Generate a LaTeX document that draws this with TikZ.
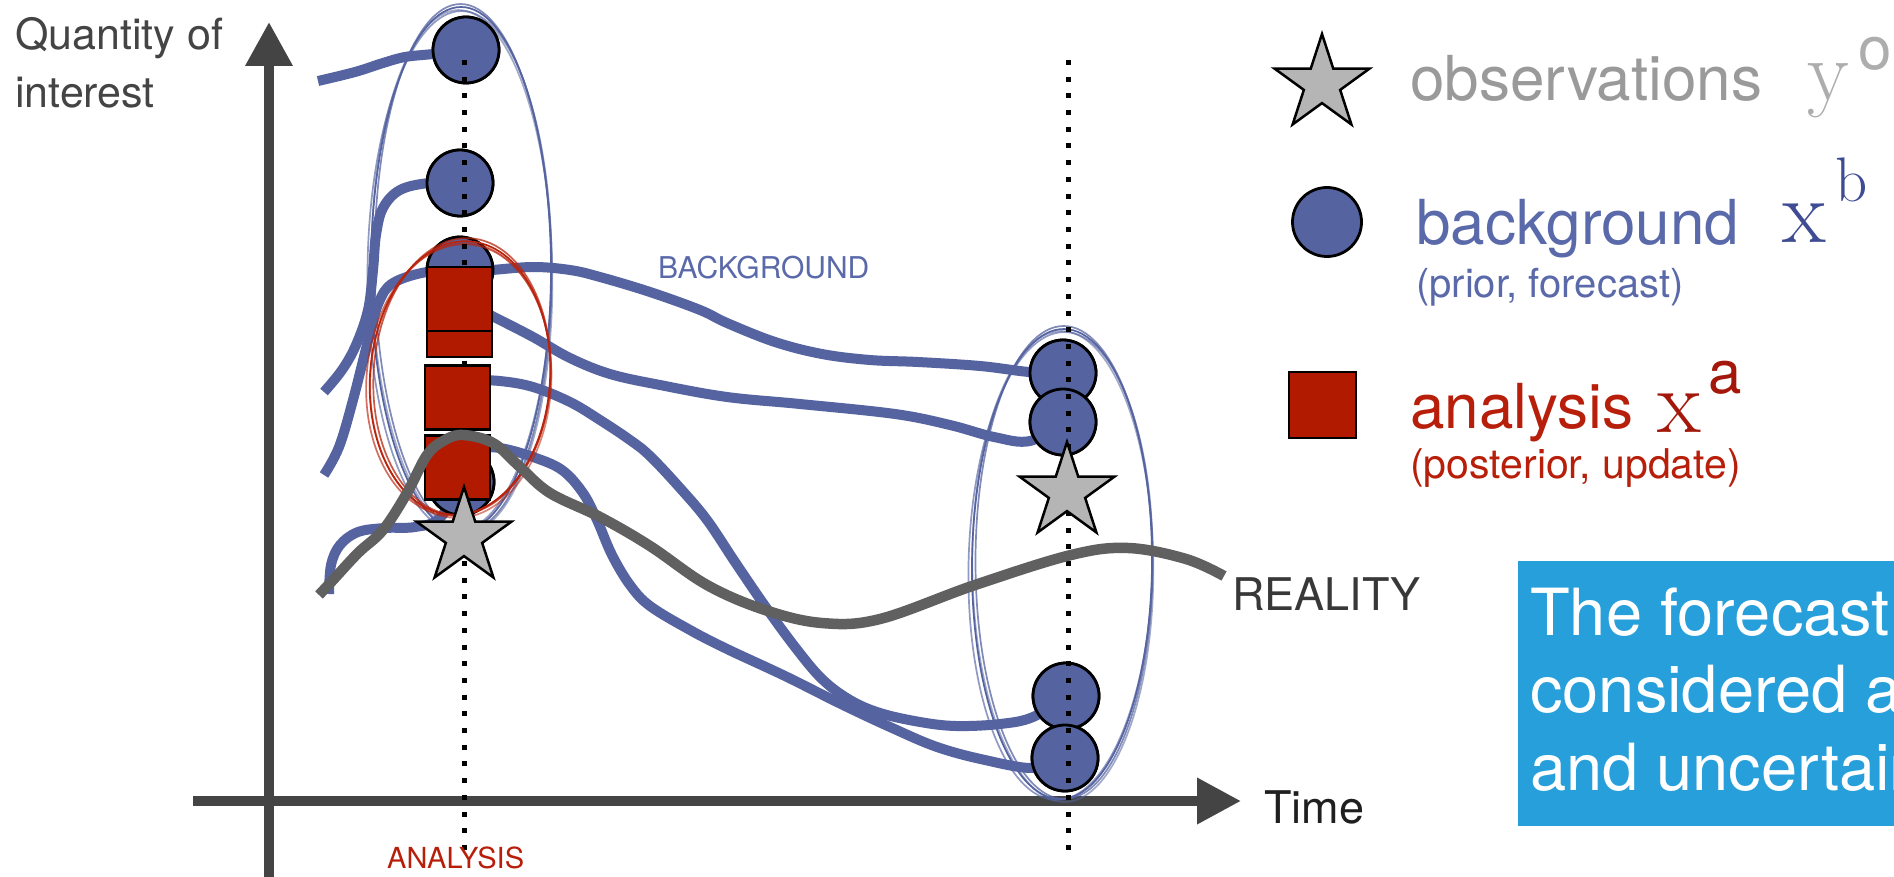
\documentclass[tikz,border=0pt]{standalone}
\usepackage{fontspec}
\newfontfamily\helv{TeX Gyre Heros}
\usetikzlibrary{shapes.geometric,arrows.meta}
\newcommand\fsz[1]{\fontsize{#1}{#1}\selectfont}
\definecolor{bgblue}{HTML}{5563A0}
\definecolor{bgtext}{HTML}{5A69A9}
\definecolor{bgmath}{HTML}{3F4C94}
\definecolor{anred}{HTML}{B21A00}
\definecolor{antext}{HTML}{B71F0A}
\definecolor{anmath}{HTML}{A3180A}
\definecolor{ellred}{HTML}{B9230C}
\definecolor{starfill}{HTML}{B5B5B5}
\definecolor{obstext}{HTML}{9A9A9A}
\definecolor{obsmath}{HTML}{ADADAD}
\definecolor{realgray}{HTML}{606060}
\definecolor{axisgray}{HTML}{444444}
\definecolor{boxblue}{HTML}{279FDB}
\begin{document}
\begin{tikzpicture}[x=1pt,y=-1pt,
  bgdot/.style={circle, draw=black, line width=2.8pt, fill=bgblue, minimum size=66pt, inner sep=0pt},
  anbox/.style={rectangle, draw=black, line width=2.8pt, fill=anred, minimum width=65pt, minimum height=64pt, inner sep=0pt},
  obstar/.style={star, star points=5, star point ratio=2.618, minimum size=100pt, inner sep=0pt, draw=black, line width=2.5pt, fill=starfill},
  member/.style={draw=bgblue, line width=10pt},
  truth/.style={draw=realgray, line width=10.5pt},
  axisline/.style={draw=axisgray, line width=10pt},
  timemark/.style={draw=black, line width=5pt, dash pattern=on 5pt off 11.7pt},
  sketchb/.style={draw=bgblue, line width=1.7pt},
  sketchr/.style={draw=ellred, line width=1.7pt},
  lbl/.style={inner sep=0pt, anchor=base west},
]
\useasboundingbox (0,0) rectangle (1894,877);
\fill[white] (0,0) rectangle (1894,877);

% axes
\coordinate (xs) at (193,801);
\coordinate (xe) at (1241,801);
\coordinate (ys) at (269,880);
\coordinate (ye) at (269,22);
\draw[axisline, -{Triangle[length=44pt,width=44pt]}] (xs) -- (xe);
\draw[axisline, -{Triangle[length=44pt,width=45pt]}] (ys) -- (ye);

% hand-drawn ensemble envelopes
\foreach \ox/\oy/\rx/\ry/\rt/\op in {0/0/90/262/0/1, 2/-1.5/88.5/263.5/0.6/0.75, -1.5/2/92/260/-0.5/0.65, 0.8/2.5/90.5/261.5/0.8/0.55}
  \draw[sketchb, opacity=\op, shift={(461+\ox,269+\oy)}, rotate=\rt] (0,0) ellipse [x radius=\rx, y radius=\ry];
\foreach \ox/\oy/\rx/\ry/\rt/\op in {0/0/90/235/-0.5/1, 2/-1.5/88.5/236.5/0.1/0.75, -1.5/2/92/234/-1.1/0.65, 0.8/2.5/90.5/235.5/0.4/0.55}
  \draw[sketchb, opacity=\op, shift={(1062+\ox,564+\oy)}, rotate=\rt] (0,0) ellipse [x radius=\rx, y radius=\ry];

% background states at the analysis time
\node[bgdot] (c1) at (466,50) {};
\node[bgdot] (c2) at (460,183) {};
\node[bgdot] (c3) at (460,270) {};
\node[bgdot] (c4) at (461,482) {};

% forecast states at the next time
\node[bgdot] (r1) at (1063,373) {};
\node[bgdot] (r2) at (1063,422) {};
\node[bgdot] (r3) at (1066,696) {};
\node[bgdot] (r4) at (1065,758) {};

% ensemble member trajectories
\draw[member] plot[smooth, tension=0.6] coordinates {(318,81) (355,72) (383,63) (405,57) (433,54) (c1.center)};
\draw[member] plot[smooth, tension=0.6] coordinates {(c2.center) (429,183) (400,190) (383,208) (376,235) (373,270) (368,310) (356,345) (342,370) (324,392)};
\draw[member] plot[smooth, tension=0.6] coordinates {(324,475) (339,447) (353,400) (370,333) (379,302) (393,283) (427,272) (460,272) (492,270) (533,267) (570,270) (600,277) (650,292) (700,310) (727,323) (775,342) (822,354) (870,360) (918,362) (980,366) (1029,372) (r1.center)};
\draw[member] plot[smooth, tension=0.6] coordinates {(470,305) (500,320) (533,337) (570,358) (610,374) (660,385) (727,397) (800,404) (895,414) (950,425) (994,437) (1030,441) (r2.center)};
\draw[member] plot[smooth, tension=0.6] coordinates {(470,380) (500,381) (533,387) (570,402) (600,420) (630,440) (650,456) (680,488) (707,520) (735,562) (765,606) (795,647) (822,679) (850,700) (880,713) (920,722) (956,726) (1000,724) (1033,717) (r3.center)};
\draw[member] plot[smooth, tension=0.6] coordinates {(470,447) (500,448) (533,457) (562,470) (583,493) (597,520) (612,555) (630,585) (650,606) (690,630) (727,649) (785,676) (841,704) (890,727) (937,747) (985,760) (1033,768) (r4.center)};
\draw[member] plot[smooth, tension=0.6] coordinates {(329,594) (331,565) (340,545) (358,532) (385,528) (415,527) (440,518) (c4.center)};

% circles again, over the trajectory ends
\node[bgdot] at (c1) {};
\node[bgdot] at (c2) {};
\node[bgdot] at (c3) {};
\node[bgdot] at (c4) {};
\node[bgdot] at (r1) {};
\node[bgdot] at (r2) {};
\node[bgdot] at (r3) {};
\node[bgdot] at (r4) {};

% analysis envelope
\foreach \ox/\oy/\rx/\ry/\rt/\op in {0/0/90/137/-4/1, 2/-1.5/88.5/138.5/-3.3/0.75, -1.5/2/92/136/-4.7/0.65, 0.8/2.5/90.5/137.5/-2.8/0.55}
  \draw[sketchr, opacity=\op, shift={(460+\ox,378+\oy)}, rotate=\rt] (0,0) ellipse [x radius=\rx, y radius=\ry];

% time markers
\coordinate (ta) at (464,60);
\coordinate (tb) at (464,852);
\coordinate (tc) at (1068,60);
\coordinate (td) at (1068,852);
\draw[timemark] (ta) -- (tb);
\draw[timemark] (tc) -- (td);

% analysis states
\node[anbox] (s2) at (459.5,325) {};
\node[anbox] (s1) at (459.5,299) {};
\node[anbox] (s3) at (457.5,397.5) {};
\node[anbox] (s4) at (457.5,467.5) {};

% the true state
\draw[truth] plot[smooth, tension=0.6] coordinates {(319,595) (333,580) (358,553) (383,530) (407,493) (427,455) (445,440) (463,435) (493,443) (520,467) (550,493) (600,517) (650,546) (707,585) (765,610) (822,623) (880,619) (975,585) (1071,555) (1128,548) (1186,559) (1224,576)};

% observations
\node[obstar] (o1) at (464,537) {};
\node[obstar] (o2) at (1067,492) {};

% axis and curve labels
\node[lbl, text=axisgray, font=\helv\fsz{43}] (q1) at (15,50) {Quantity of};
\node[lbl, text=axisgray, font=\helv\fsz{43}] (q2) at (15,108) {interest};
\node[lbl, text=black!88, font=\helv\fsz{45}] (tl) at (1264,823) {Time};
\node[lbl, text=black!78, font=\helv\fsz{45}] (rl) at (1232,610) {REALITY};
\node[lbl, text=bgtext, font=\helv\fsz{30}] (bl) at (658,279) {BACKGROUND};
\node[lbl, text=antext, font=\helv\fsz{29}] (al) at (387,868) {ANALYSIS};

% legend
\node[obstar] (lstar) at (1322,84) {};
\node[bgdot, minimum size=69pt] (ldot) at (1327,222) {};
\node[anbox, minimum width=67pt, minimum height=66pt] (lbox) at (1322.5,405) {};
\node[lbl, text=obstext, font=\helv\fsz{62}] (lo) at (1410,101) {observations};
\node[lbl, text=obsmath, font=\rmfamily\fsz{86}] (lyo) at (1807,101) {y};
\node[lbl, text=obsmath, font=\helv\fsz{60}] (lyos) at (1858,70) {o};
\node[lbl, text=bgtext, font=\helv\fsz{62}] (lb) at (1416,245) {background};
\node[lbl, text=bgmath, font=\rmfamily\fsz{90}] (lxb) at (1782,243) {x};
\node[lbl, text=bgmath, font=\rmfamily\fsz{63}] (lxbs) at (1835,202) {b};
\node[lbl, text=bgtext, font=\helv\fsz{40}] (lbp) at (1416,298) {(prior, forecast)};
\node[lbl, text=antext, font=\helv\fsz{62}] (la) at (1410,428) {analysis};
\node[lbl, text=anmath, font=\rmfamily\fsz{90}] (lxa) at (1657,432) {x};
\node[lbl, text=anmath, font=\helv\fsz{60}] (lxas) at (1708,393) {a};
\node[lbl, text=antext, font=\helv\fsz{41}] (lap) at (1410,478) {(posterior, update)};

% note box, running off the right edge
\node[fill=boxblue, anchor=north west, minimum width=420pt, minimum height=265pt, inner sep=0pt] (note) at (1518,561) {};
\node[lbl, text=white, font=\helv\fsz{65}] (n1) at (1530,635) {The forecast};
\node[lbl, text=white, font=\helv\fsz{65}] (n2) at (1530,712) {considered a};
\node[lbl, text=white, font=\helv\fsz{65}] (n3) at (1530,790) {and uncertain};
\end{tikzpicture}
\end{document}
